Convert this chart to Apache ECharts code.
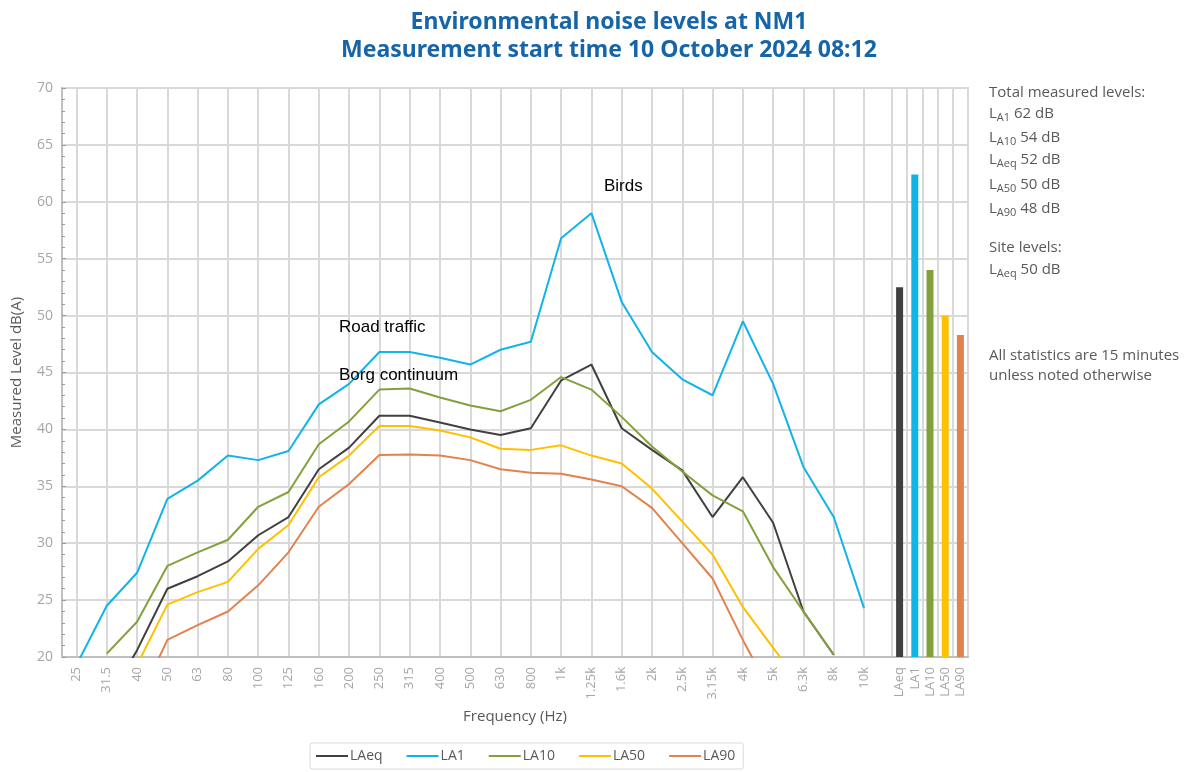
<!DOCTYPE html>
<html>
<head>
<meta charset="utf-8">
<script src="https://cdn.jsdelivr.net/npm/echarts@6/dist/echarts.min.js"></script>
<style>
  html, body { margin: 0; padding: 0; background: #fff; }
  #main { width: 1192px; height: 772px; }
</style>
</head>
<body>
<div id="main"></div>
<script>
// third-octave bands
var freqs = ['25', '31.5', '40', '50', '63', '80', '100', '125', '160', '200', '250', '315', '400', '500', '630', '800',
  '1k', '1.25k', '1.6k', '2k', '2.5k', '3.15k', '4k', '5k', '6.3k', '8k', '10k'];

var laeq = [null, 16.0, 20.6, 26.0, 27.1, 28.4, 30.7, 32.3, 36.5, 38.4, 41.2, 41.2, 40.6, 40.0, 39.5, 40.1,
  44.3, 45.7, 40.1, 38.2, 36.4, 32.3, 35.8, 31.8, 24.0, 20.2, null];
var la1 = [19.3, 24.5, 27.4, 33.9, 35.5, 37.7, 37.3, 38.1, 42.2, 44.0, 46.8, 46.8, 46.3, 45.7, 47.0, 47.7,
  56.8, 59.0, 51.2, 46.8, 44.4, 43.0, 49.5, 44.0, 36.7, 32.3, 24.3];
var la10 = [null, 20.3, 23.1, 28.0, 29.2, 30.3, 33.2, 34.5, 38.7, 40.7, 43.5, 43.6, 42.8, 42.1, 41.6, 42.6,
  44.6, 43.5, 41.1, 38.5, 36.3, 34.2, 32.8, 27.9, 24.0, 20.2, null];
var la50 = [null, null, 19.3, 24.6, 25.7, 26.6, 29.5, 31.6, 35.8, 37.7, 40.3, 40.3, 39.9, 39.3, 38.3, 38.2,
  38.6, 37.7, 37.0, 34.8, 31.9, 29.0, 24.4, 20.8, 17.3, null, null];
var la90 = [null, null, 15.8, 21.5, 22.8, 24.0, 26.3, 29.2, 33.2, 35.2, 37.75, 37.8, 37.7, 37.3, 36.5, 36.2,
  36.1, 35.6, 35.0, 33.1, 30.0, 26.9, 21.5, 16.5, null, null, null];

// overall levels (bars at the right)
var stats = ['LAeq', 'LA1', 'LA10', 'LA50', 'LA90'];
var totals = [52.5, 62.4, 54.0, 50.0, 48.3];

var yTicks = { min: 20, max: 70, interval: 5 };

var colors = {
  LAeq: '#404040',
  LA1: '#12B4E8',
  LA10: '#84A03C',
  LA50: '#FFC000',
  LA90: '#E2824F'
};

var gridColor = '#d9d9d9';
var labelGrey = '#a6a6a6';
var textGrey = '#595959';
var font = 'Open Sans';

function lineSeries(name, data) {
  return {
    name: name,
    type: 'line',
    xAxisIndex: 1,
    yAxisIndex: 1,
    data: data,
    symbol: 'none',
    clip: true,
    lineStyle: { width: 2, color: colors[name] },
    itemStyle: { color: colors[name] }
  };
}

var subRich = {
  n: { fontSize: 15, color: textGrey, fontFamily: font, height: 22 },
  s: { fontSize: 11, color: textGrey, fontFamily: font, verticalAlign: 'bottom', height: 22, padding: [8, 0, 0, 0] }
};

function sideText(y, str) {
  return {
    type: 'text',
    left: 989,
    top: y,
    style: { text: str, rich: subRich, fill: textGrey, font: '15px "' + font + '"' }
  };
}

function note(x, y, str) {
  return { type: 'text', left: x, top: y, z: 100, style: { text: str, fill: '#000', font: '17px "Liberation Sans"' } };
}

var myChart = echarts.init(document.getElementById('main'));
myChart.setOption({
  backgroundColor: '#fff',
  animation: false,
  title: {
    text: 'Environmental noise levels at NM1\nMeasurement start time 10 October 2024 08:12',
    left: 604,
    top: 3,
    textAlign: 'center',
    textStyle: { fontFamily: 'Noto Sans', fontSize: 23, fontWeight: 'bold', color: '#1565A8', lineHeight: 28 }
  },
  legend: {
    data: ['LAeq', 'LA1', 'LA10', 'LA50', 'LA90'],
    left: 310,
    top: 743,
    padding: [6, 8, 6, 6],
    icon: 'rect',
    itemWidth: 32,
    itemHeight: 2,
    itemGap: 24,
    borderColor: gridColor,
    borderWidth: 1,
    borderRadius: 2,
    textStyle: { color: textGrey, fontFamily: font, fontSize: 14, padding: [0, 0, 0, -3] }
  },
  grid: [
    { left: 62, right: 224, top: 88, bottom: 115, show: true, borderColor: gridColor, borderWidth: 2, backgroundColor: 'transparent' },
    { left: 76.5, width: 787.5, top: 88, bottom: 115 },
    { left: 892, right: 224, top: 88, bottom: 115 }
  ],
  xAxis: [
    {
      gridIndex: 0, type: 'value', min: 0, max: 1,
      name: 'Frequency (Hz)', nameLocation: 'middle', nameGap: 52,
      nameTextStyle: { color: textGrey, fontFamily: font, fontSize: 15 },
      axisLine: { show: true, lineStyle: { color: '#bfbfbf', width: 2 } },
      axisTick: { show: false }, axisLabel: { show: false }, splitLine: { show: false }
    },
    {
      gridIndex: 1, type: 'category', data: freqs, boundaryGap: false,
      axisLine: { show: false }, axisTick: { show: false },
      axisLabel: { rotate: 90, color: labelGrey, fontFamily: font, fontSize: 13, margin: 10, interval: 0 },
      splitLine: { show: true, lineStyle: { color: gridColor, width: 2 } }
    },
    {
      gridIndex: 2, type: 'category', data: stats, boundaryGap: true,
      axisLine: { show: false }, axisTick: { show: false },
      axisLabel: { rotate: 90, color: labelGrey, fontFamily: font, fontSize: 13, margin: 10, interval: 0 },
      splitLine: { show: true, interval: 0, lineStyle: { color: gridColor, width: 2 } }
    }
  ],
  yAxis: [
    {
      gridIndex: 0, type: 'value', min: yTicks.min, max: yTicks.max, interval: yTicks.interval,
      name: 'Measured Level dB(A)', nameLocation: 'middle', nameGap: 38,
      nameTextStyle: { color: textGrey, fontFamily: font, fontSize: 15 },
      axisLine: { show: true, lineStyle: { color: '#bfbfbf', width: 2 } },
      axisTick: { show: true, inside: true, length: 4, lineStyle: { color: '#9a9a9a' } },
      minorTick: { show: true, splitNumber: 5, length: 3, lineStyle: { color: '#9a9a9a' } },
      axisLabel: { color: labelGrey, fontFamily: font, fontSize: 14, margin: 9 },
      splitLine: { show: true, lineStyle: { color: gridColor, width: 2 } }
    },
    { gridIndex: 1, type: 'value', min: yTicks.min, max: yTicks.max, show: false },
    { gridIndex: 2, type: 'value', min: yTicks.min, max: yTicks.max, show: false }
  ],
  series: [
    lineSeries('LAeq', laeq),
    lineSeries('LA1', la1),
    lineSeries('LA10', la10),
    lineSeries('LA50', la50),
    lineSeries('LA90', la90),
    {
      name: 'Total measured levels',
      type: 'bar',
      xAxisIndex: 2,
      yAxisIndex: 2,
      barWidth: 7,
      data: totals.map(function (v, i) {
        return { value: v, itemStyle: { color: colors[stats[i]] } };
      })
    }
  ],
  graphic: [
    note(339, 319, 'Road traffic'),
    note(339, 367, 'Borg continuum'),
    note(604, 178, 'Birds'),
    { type: 'text', left: 989, top: 85, style: { text: 'Total measured levels:', fill: textGrey, font: '15px "' + font + '"' } },
    sideText(106, '{n|L}{s|A1}{n| 62 dB}'),
    sideText(130, '{n|L}{s|A10}{n| 54 dB}'),
    sideText(152, '{n|L}{s|Aeq}{n| 52 dB}'),
    sideText(177, '{n|L}{s|A50}{n| 50 dB}'),
    sideText(201, '{n|L}{s|A90}{n| 48 dB}'),
    { type: 'text', left: 989, top: 240, style: { text: 'Site levels:', fill: textGrey, font: '15px "' + font + '"' } },
    sideText(262, '{n|L}{s|Aeq}{n| 50 dB}'),
    { type: 'text', left: 989, top: 346, style: { text: 'All statistics are 15 minutes\nunless noted otherwise', fill: textGrey, font: '15px "' + font + '"', lineHeight: 20 } }
  ]
});
</script>
</body>
</html>
